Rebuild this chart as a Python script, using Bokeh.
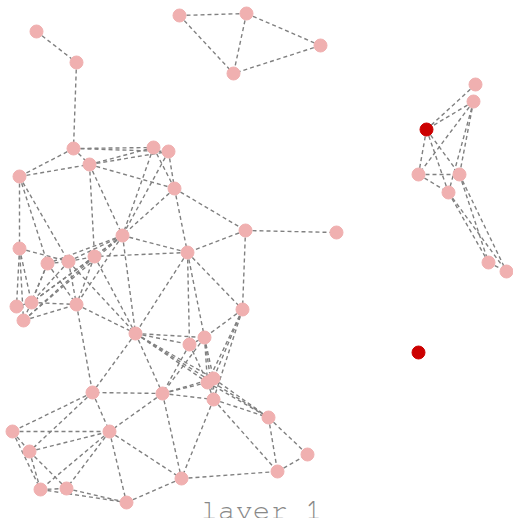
from bokeh.plotting import figure
from bokeh.models import Range1d, Label, ColumnDataSource
from bokeh.embed import file_html
from bokeh.resources import INLINE

# Node layout (x, y in layout units; y grows downward)
node_names = ["A1","A2","A3","A4","B1","B2",
              "C1","C2","C3","C4","C5","C6","C7","C8","C9","C10",
              "C11","C12","C13","C14","C15","C16","C17","C18","C19","C20",
              "C21","C22","C23","C24","C25","C26","C27","C28","C29","C30",
              "C31","C32","C33","C34","C35","C36","C37",
              "R1","R2","R3","R4","R5","R6","R7","R8","R9"]
node_x = [179,246,320,233,36,76,
          73,153,168,19,89,174,245,336,122,187,
          19,47,68,94,16,31,23,76,242,135,
          189,204,207,213,92,162,213,268,12,109,
          29,307,277,181,40,66,126,
          475,473,426,418,459,448,488,506,418]
node_y = [15,13,45,73,31,62,
          148,147,151,176,164,188,230,232,235,252,
          248,263,261,256,306,302,320,304,309,333,
          344,337,382,378,392,393,399,417,431,431,
          451,454,471,478,489,488,502,
          84,101,129,174,174,192,262,271,352]
highlighted = ["R3", "R9"]

edges = [
    ("A1","A2"),("A1","A4"),("A2","A4"),("A2","A3"),("A3","A4"),
    ("B1","B2"),("B2","C1"),
    ("C1","C2"),("C1","C3"),("C1","C4"),("C1","C5"),
    ("C4","C5"),
    ("C5","C2"),("C5","C3"),("C5","C6"),("C5","C9"),("C5","C14"),
    ("C2","C6"),("C3","C6"),("C2","C9"),("C3","C9"),
    ("C6","C9"),("C6","C10"),("C6","C7"),
    ("C7","C8"),("C7","C10"),("C7","C19"),
    ("C9","C10"),("C9","C20"),("C9","C14"),("C9","C12"),("C9","C13"),
    ("C9","C16"),("C9","C17"),("C9","C18"),
    ("C10","C20"),("C10","C21"),("C10","C22"),("C10","C19"),("C10","C14"),
    ("C4","C11"),("C4","C12"),("C4","C13"),
    ("C11","C13"),("C12","C13"),("C13","C14"),
    ("C11","C16"),("C11","C15"),("C11","C17"),
    ("C12","C16"),("C12","C17"),("C12","C18"),
    ("C13","C16"),("C13","C18"),
    ("C14","C16"),("C14","C17"),("C14","C18"),
    ("C15","C16"),("C16","C18"),("C17","C18"),
    ("C14","C20"),("C13","C20"),("C18","C20"),("C18","C25"),
    ("C20","C21"),("C20","C22"),("C20","C23"),("C20","C24"),("C20","C26"),
    ("C20","C25"),("C20","C28"),
    ("C19","C22"),("C19","C23"),("C19","C24"),("C19","C27"),
    ("C21","C22"),("C21","C23"),("C22","C23"),("C22","C24"),("C22","C27"),
    ("C21","C26"),("C22","C26"),
    ("C23","C24"),("C24","C26"),("C23","C26"),
    ("C26","C27"),("C26","C25"),("C26","C30"),("C26","C34"),
    ("C23","C27"),("C24","C27"),
    ("C23","C28"),("C24","C28"),("C27","C28"),
    ("C28","C33"),("C28","C32"),("C27","C33"),("C33","C32"),("C34","C33"),("C27","C34"),
    ("C25","C29"),("C25","C31"),("C25","C30"),
    ("C29","C30"),("C29","C31"),("C29","C35"),("C31","C35"),("C31","C30"),("C31","C36"),
    ("C30","C35"),("C30","C36"),("C30","C37"),("C30","C34"),
    ("C35","C37"),("C36","C37"),("C35","C36"),("C34","C37"),
    ("R1","R3"),("R2","R3"),("R2","R4"),("R2","R5"),("R2","R6"),
    ("R3","R4"),("R3","R5"),("R3","R6"),("R4","R5"),("R4","R6"),
    ("R5","R7"),("R5","R8"),("R6","R7"),("R6","R8"),("R7","R8"),
]
layer_label = "layer 1"

pos = {n: (x, y) for n, x, y in zip(node_names, node_x, node_y)}

W, H = 513, 518
p = figure(width=W, height=H, x_range=Range1d(0, W), y_range=Range1d(H, 0),
           output_backend="svg", toolbar_location=None, min_border=0)
p.axis.visible = False
p.xgrid.visible = False
p.ygrid.visible = False
p.outline_line_color = None
p.background_fill_color = "white"
p.border_fill_color = "white"

xs = [[pos[a][0], pos[b][0]] for a, b in edges]
ys = [[pos[a][1], pos[b][1]] for a, b in edges]
p.multi_line(xs=xs, ys=ys, line_color="#808080", line_width=1.4, line_dash="4 3")

colors = ["#cc0000" if n in highlighted else "#f0b0b0" for n in node_names]
src = ColumnDataSource(dict(x=node_x, y=node_y, c=colors))
p.scatter("x", "y", source=src, size=13, fill_color="c", line_color="c")

p.add_layout(Label(x=261, y=510, text=layer_label, text_align="center",
                   text_baseline="alphabetic",
                   text_font="'Nimbus Mono PS', FreeMono, 'Courier 10 Pitch', Courier, monospace",
                   text_font_size="29px", text_color="#888888"))

open("out.html", "w").write(file_html(p, INLINE))
